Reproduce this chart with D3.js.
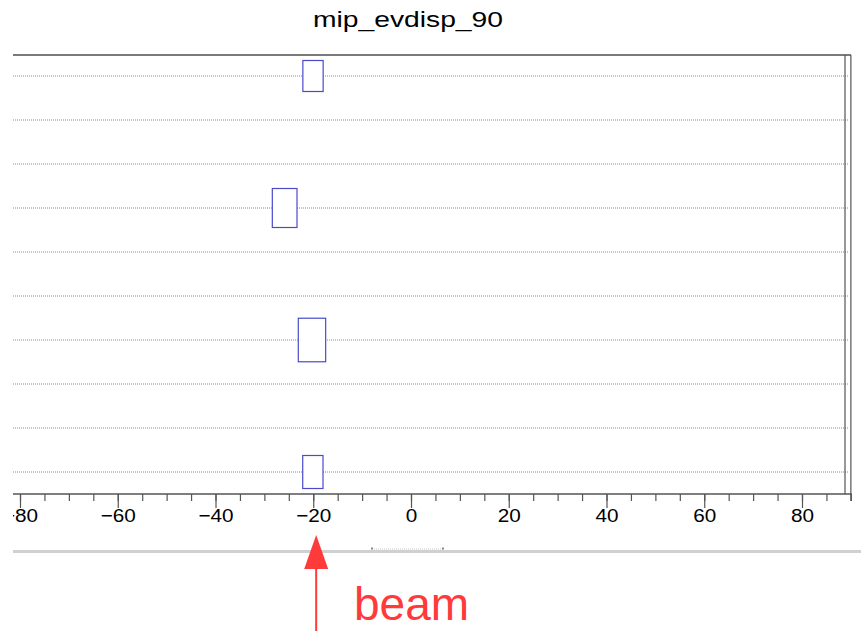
<!DOCTYPE html>
<html>
<head>
<meta charset="utf-8">
<script src="https://cdn.jsdelivr.net/npm/d3@7"></script>
<style>
  html, body { margin: 0; padding: 0; background: #fff; }
  svg { display: block; }
  text { font-family: "Liberation Sans", Arial, Helvetica, sans-serif; }
</style>
</head>
<body>
<script>
// ---- data ----
const chartTitle = "mip_evdisp_90";
const layers = d3.range(10);               // detector layers, top to bottom
const hitLayer = [0, 3, 6, 9];             // layer of each hit
const hitX = [-20.05, -25.85, -20.26, -20.08]; // x position of each hit (cm)
const hitWidth = [4.15, 5.05, 5.6, 4.15];  // box width (x units)
const hitHeight = [0.705, 0.886, 0.99, 0.75]; // box height (fraction of layer)
const majorTicks = [-80, -60, -40, -20, 0, 20, 40, 60, 80];
const minorTicks = d3.range(-85, 91, 5);
const annotation = "beam";
const beamX = -19.4;

// ---- layout ----
const W = 861, H = 631;
const svg = d3.select("body").append("svg").attr("width", W).attr("height", H);

const x = d3.scaleLinear().domain([-80, 80]).range([20, 802]);
const y = d3.scaleBand().domain(layers).range([54, 494]).paddingInner(0).paddingOuter(0);
const stretch = 1.12;
const leftClip = 13, plotRight = 845;

svg.append("defs").append("clipPath").attr("id", "clipL")
  .append("rect").attr("x", leftClip).attr("y", 0).attr("width", W - leftClip).attr("height", H);

const g = svg.append("g").attr("clip-path", "url(#clipL)");

// title
svg.append("text")
  .attr("x", 408).attr("y", 27)
  .attr("text-anchor", "middle")
  .attr("font-size", 21.5)
  .attr("textLength", 190).attr("lengthAdjust", "spacingAndGlyphs")
  .attr("fill", "#000")
  .text(chartTitle);

// gridlines at layer centers
g.append("g").selectAll("line").data(layers).join("line")
  .attr("x1", leftClip).attr("x2", 849)
  .attr("y1", d => y(d) + y.bandwidth() / 2)
  .attr("y2", d => y(d) + y.bandwidth() / 2)
  .attr("stroke", "#8a8a8a").attr("stroke-width", 1)
  .attr("stroke-dasharray", "1,1");

// frame top
g.append("line").attr("x1", leftClip).attr("x2", plotRight + 6)
  .attr("y1", 55).attr("y2", 55)
  .attr("stroke", "#7a7a7a").attr("stroke-width", 2);
// right double edge
g.append("line").attr("x1", plotRight).attr("x2", plotRight)
  .attr("y1", 55).attr("y2", 494).attr("stroke", "#555").attr("stroke-width", 1.2);
g.append("line").attr("x1", x(90)).attr("x2", x(90))
  .attr("y1", 55).attr("y2", 501).attr("stroke", "#555").attr("stroke-width", 1.2);

// hit boxes
const hits = hitLayer.map((l, i) => ({ l, x: hitX[i], w: hitWidth[i], h: hitHeight[i] }));
g.append("g").selectAll("rect").data(hits).join("rect")
  .attr("x", d => x(d.x - d.w / 2))
  .attr("width", d => x(d.x + d.w / 2) - x(d.x - d.w / 2))
  .attr("y", d => y(d.l) + y.bandwidth() / 2 - d.h * y.bandwidth() / 2)
  .attr("height", d => d.h * y.bandwidth())
  .attr("fill", "#fff")
  .attr("stroke", "#4a4acb").attr("stroke-width", 1.2);

// axis: minor ticks
const axisY = 494;
const minorAxis = d3.axisBottom(x).tickValues(minorTicks).tickSize(7).tickFormat("").tickSizeOuter(0);
const mg = g.append("g").attr("transform", `translate(0,${axisY})`).call(minorAxis);
mg.select(".domain").remove();
mg.selectAll(".tick line").attr("stroke", "#555").attr("stroke-width", 1.2);

// axis: major ticks with labels
const majorAxis = d3.axisBottom(x).tickValues(majorTicks).tickSize(14).tickSizeOuter(0).tickPadding(3);
const ag = g.append("g").attr("transform", `translate(0,${axisY})`).call(majorAxis);
ag.select(".domain").remove();
ag.selectAll(".tick line").attr("stroke", "#555").attr("stroke-width", 1.2);
ag.selectAll(".tick text")
  .attr("font-size", 18.5)
  .attr("font-family", "'Liberation Sans', Arial, sans-serif")
  .attr("fill", "#000")
  .attr("dy", null).attr("y", 0)
  .attr("transform", `translate(0,27.5) scale(${stretch},1)`);

// axis line
g.append("line").attr("x1", leftClip).attr("x2", x(90) + 1)
  .attr("y1", axisY).attr("y2", axisY)
  .attr("stroke", "#555").attr("stroke-width", 1.5);

// bottom light strip (figure edge)
g.append("line").attr("x1", leftClip).attr("x2", W)
  .attr("y1", 551.5).attr("y2", 551.5)
  .attr("stroke", "#d0d0d0").attr("stroke-width", 3);
g.append("line").attr("x1", 372).attr("x2", 443)
  .attr("y1", 549).attr("y2", 549)
  .attr("stroke", "#c8c8c8").attr("stroke-width", 1).attr("stroke-dasharray", "1,1");
g.selectAll(".ghost").data([372, 443]).join("rect").attr("class", "ghost")
  .attr("x", d => d - 1).attr("y", 547.5).attr("width", 2).attr("height", 2)
  .attr("fill", "#888");

// beam arrow annotation
const red = "#ff3a3a";
const bx = x(beamX);
svg.append("line").attr("x1", bx).attr("x2", bx).attr("y1", 566).attr("y2", 631)
  .attr("stroke", red).attr("stroke-width", 2);
svg.append("path")
  .attr("d", `M${bx},535 L${bx - 12},569 L${bx + 12},569 Z`)
  .attr("fill", red);
svg.append("text").attr("x", 354).attr("y", 620)
  .attr("font-size", 46).attr("fill", red)
  .text(annotation);
</script>
</body>
</html>
